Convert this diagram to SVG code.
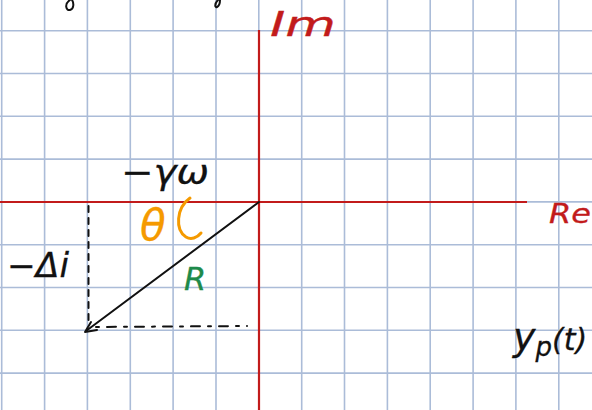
<svg xmlns="http://www.w3.org/2000/svg" width="592" height="410" viewBox="0 0 592 410">
<style>
.grid line{stroke:#abbcd8;stroke-width:1.6}
.ax{stroke:#c21b1b;stroke-width:2.2;fill:none}
.ink{stroke:#111;stroke-width:2;fill:none;stroke-linecap:round;stroke-linejoin:round}
.t{font-family:"DejaVu Sans",sans-serif;font-style:italic;stroke-width:0.3}
</style>
<rect width="592" height="410" fill="#fff"/>
<g class="grid">
<line x1="0" y1="30.7" x2="592" y2="30.7"/>
<line x1="0" y1="73.5" x2="592" y2="73.5"/>
<line x1="0" y1="116.3" x2="592" y2="116.3"/>
<line x1="0" y1="159.1" x2="592" y2="159.1"/>
<line x1="0" y1="201.9" x2="592" y2="201.9"/>
<line x1="0" y1="244.7" x2="592" y2="244.7"/>
<line x1="0" y1="287.5" x2="592" y2="287.5"/>
<line x1="0" y1="330.3" x2="592" y2="330.3"/>
<line x1="0" y1="373.1" x2="592" y2="373.1"/>
<line x1="1.7" y1="0" x2="1.7" y2="410"/>
<line x1="44.6" y1="0" x2="44.6" y2="410"/>
<line x1="87.4" y1="0" x2="87.4" y2="410"/>
<line x1="130.3" y1="0" x2="130.3" y2="410"/>
<line x1="173.1" y1="0" x2="173.1" y2="410"/>
<line x1="216" y1="0" x2="216" y2="410"/>
<line x1="258.8" y1="0" x2="258.8" y2="410"/>
<line x1="301.7" y1="0" x2="301.7" y2="410"/>
<line x1="344.5" y1="0" x2="344.5" y2="410"/>
<line x1="387.4" y1="0" x2="387.4" y2="410"/>
<line x1="430.2" y1="0" x2="430.2" y2="410"/>
<line x1="473.1" y1="0" x2="473.1" y2="410"/>
<line x1="515.9" y1="0" x2="515.9" y2="410"/>
<line x1="558.8" y1="0" x2="558.8" y2="410"/>
</g>
<g id="axes">
<line class="ax" x1="259" y1="30" x2="259" y2="410"/>
<line class="ax" x1="0" y1="202" x2="527" y2="202"/>
<text class="t" x="270" y="36" font-size="34" fill="#c21b1b" stroke="#c21b1b" textLength="66" lengthAdjust="spacingAndGlyphs">Im</text>
<text class="t" x="549" y="223" font-size="27" fill="#c21b1b" stroke="#c21b1b" textLength="42" lengthAdjust="spacingAndGlyphs">Re</text>
</g>
<g id="connectors">
<line class="ink" x1="259" y1="202" x2="86" y2="331"/>
<path class="ink" d="M91 322 L85 332 L97 330"/>
<line class="ink" x1="88.5" y1="206" x2="88.5" y2="326" stroke-width="1.4" stroke-dasharray="6 6"/>
<line class="ink" x1="96" y1="327" x2="247" y2="326" stroke-width="1.4" stroke-dasharray="3 8 9 8"/>
</g>
<g id="top-fragments">
<path class="ink" d="M70 0 C64 4 66 11 70 10 C74 9 74 3 72 0" stroke-width="2.2"/>
<path class="ink" d="M218 0 C214 4 215 8 217 7 C219 6 220 3 220 0" stroke-width="2.2"/>
</g>
<g id="label-gw"><text class="t" x="121" y="184" font-size="34" fill="#111" stroke="#111" textLength="88" lengthAdjust="spacingAndGlyphs">−γω</text></g>
<g id="label-theta">
<text class="t" x="140" y="240" font-size="42" fill="#f59a00" stroke="#f59a00">θ</text>
<path d="M190 198 C176 208 175 230 186 237 C191 240 197 238 201 233" fill="none" stroke="#f59a00" stroke-width="3" stroke-linecap="round"/>
</g>
<g id="label-di"><text class="t" x="7" y="277" font-size="33" fill="#111" stroke="#111" textLength="62" lengthAdjust="spacingAndGlyphs">−Δi</text></g>
<g id="label-R"><text class="t" x="184" y="290" font-size="32" fill="#1e8a4a" stroke="#1e8a4a">R</text></g>
<g id="label-yp"><text class="t" x="513" y="350" font-size="38" fill="#111" stroke="#111">y<tspan font-size="26" dy="6">p</tspan><tspan font-size="30" dy="-6">(t)</tspan></text></g>
</svg>
